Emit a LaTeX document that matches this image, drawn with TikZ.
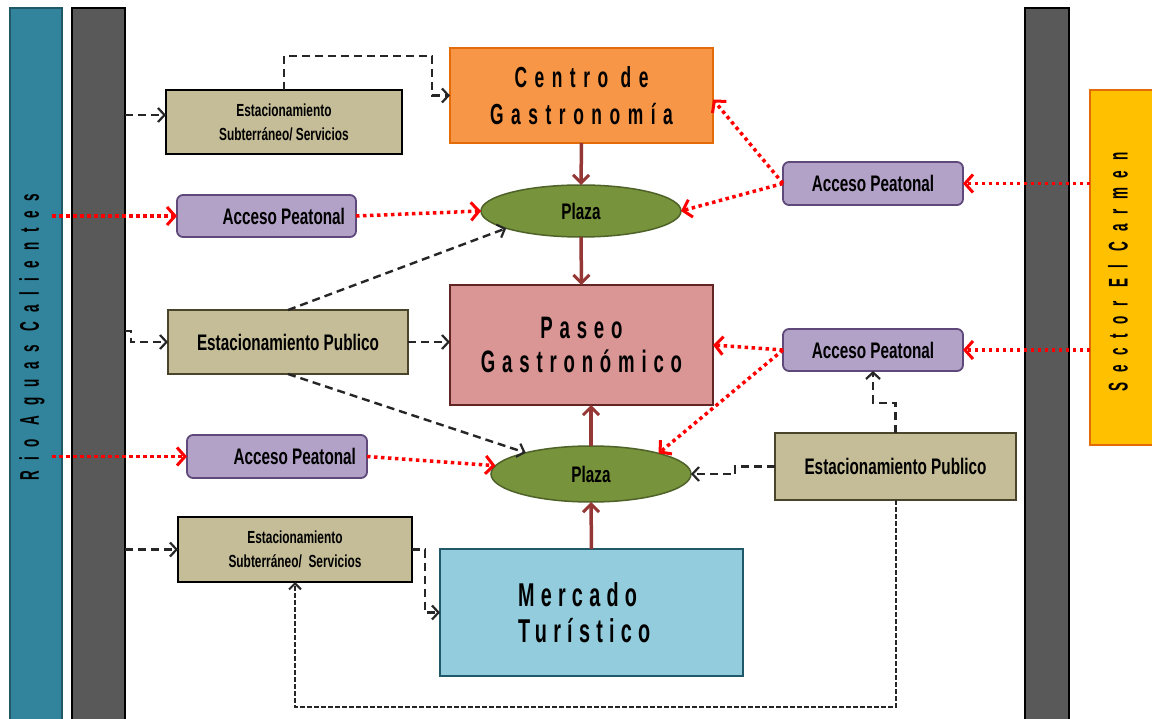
\documentclass[tikz,border=0pt]{standalone}
\usepackage{fontspec}
\setmainfont{Liberation Sans}
\newfontfamily\agN[FakeStretch=0.68]{Liberation Sans}
\newfontfamily\agT[FakeStretch=0.6]{Liberation Sans}
\newfontfamily\agV[FakeStretch=0.5,LetterSpace=36]{Liberation Sans}
\usetikzlibrary{shapes.geometric,arrows.meta}
\definecolor{cTeal}{HTML}{31849B}
\definecolor{cTealD}{HTML}{205867}
\definecolor{cGray}{HTML}{595959}
\definecolor{cYel}{HTML}{FFC000}
\definecolor{cOrD}{HTML}{E36C09}
\definecolor{cOr}{HTML}{F79646}
\definecolor{cGreen}{HTML}{77933C}
\definecolor{cGreenD}{HTML}{4F6228}
\definecolor{cPink}{HTML}{D99694}
\definecolor{cPinkD}{HTML}{632523}
\definecolor{cBlue}{HTML}{93CDDD}
\definecolor{cBlueD}{HTML}{215968}
\definecolor{cTan}{HTML}{C4BD97}
\definecolor{cTanD}{HTML}{4A452A}
\definecolor{cPur}{HTML}{B2A2C7}
\definecolor{cPurD}{HTML}{5F497A}
\definecolor{cArr}{HTML}{953735}
\newcommand\fLab{\agN\bfseries\fontsize{22.5}{24}\selectfont}
\newcommand\fSmall{\agN\bfseries\fontsize{17.5}{24}\selectfont}
\newcommand\fVert{\agV\bfseries\fontsize{27}{28}\selectfont}
\begin{document}
\begin{tikzpicture}[x=1pt,y=-1pt,
  every node/.style={inner sep=0pt, outer sep=0pt, align=center, text=black},
  bar/.style={draw=black, line width=1.5pt, fill=cGray},
  bigbox/.style={draw, line width=1.5pt},
  tanbox/.style={draw=cTanD, fill=cTan, line width=2pt},
  subbox/.style={draw=black, fill=cTan, line width=2.6pt, font=\fSmall},
  pubbox/.style={tanbox, font=\fLab},
  acc/.style={draw=cPurD, fill=cPur, line width=1.8pt, rounded corners=6pt, font=\fLab},
  plaza/.style={ellipse, draw=cGreenD, fill=cGreen, line width=1.5pt, font=\fLab},
  dsh/.style={draw=black!85, line width=2.4pt, dash pattern=on 8pt off 5pt, -{Straight Barb[length=6.5pt,width=14pt,line width=2.2pt]}},
  fdsh/.style={draw=black!85, line width=2pt, dash pattern=on 4.5pt off 2.5pt, -{Straight Barb[length=6pt,width=12pt,line width=2pt]}},
  red/.style={draw=red, line width=3.5pt, dash pattern=on 3.5pt off 3.5pt, -{Straight Barb[length=8pt,width=18pt,line width=3pt]}},
  solid/.style={draw=cArr, line width=3.5pt, -{Straight Barb[length=8pt,width=16pt,line width=3pt]}}
]
\useasboundingbox (0,0) rectangle (1152,719);
\fill[white] (0,0) rectangle (1152,719);

% side bars
\node[draw=cTealD, fill=cTeal, line width=1.5pt, minimum width=52pt, minimum height=724pt] (rio) at (36,370) {};
\node[bar, minimum width=53pt, minimum height=724pt] (gL) at (98.5,370) {};
\node[bar, minimum width=44pt, minimum height=724pt] (gR) at (1047,370) {};
\node[draw=cOrD, fill=cYel, line width=1.8pt, minimum width=66pt, minimum height=355pt] (sector) at (1123,267.5) {};
\node[rotate=90, font=\fVert] (riot) at (32,337) {Rio Aguas Calientes};
\node[rotate=90, font=\fVert] (sect) at (1118,272) {Sector El Carmen};

% main boxes
\node[bigbox, draw=cOrD, fill=cOr, minimum width=263pt, minimum height=95pt,
  font={\agT\bfseries\fontsize{29}{37}\selectfont\addfontfeature{LetterSpace=26}}] (centro) at (581.5,95.5) {Centro de\\Gastronomía};
\node[plaza, minimum width=200pt, minimum height=52pt] (p1) at (581,211) {Plaza};
\node[bigbox, draw=cPinkD, fill=cPink, minimum width=263pt, minimum height=120pt,
  font={\agT\bfseries\fontsize{31}{34}\selectfont\addfontfeature{LetterSpace=22}}] (paseo) at (581.5,345) {Paseo\\Gastronómico};
\node[plaza, minimum width=200pt, minimum height=56pt] (p2) at (591,474) {Plaza};
\node[bigbox, draw=cBlueD, fill=cBlue, minimum width=303pt, minimum height=127pt,
  text width=147pt, inner xsep=78pt, align=left,
  font={\agT\bfseries\fontsize{33}{36}\selectfont\addfontfeature{LetterSpace=19}}] (merc) at (591.5,612.5) {Mercado\\Turístico};

% left column
\node[subbox, minimum width=236pt, minimum height=64pt] (est1) at (284,122) {Estacionamiento\\Subterráneo/ Servicios};
\node[acc, minimum height=42pt, inner xsep=11pt] (acL1) at (266.5,216) {\makebox[157pt][r]{Acceso Peatonal}};
\node[pubbox, minimum width=240pt, minimum height=64pt] (epL) at (288,342) {Estacionamiento Publico};
\node[acc, minimum height=43pt, inner xsep=11pt] (acL2) at (277,456.5) {\makebox[158pt][r]{Acceso Peatonal}};
\node[subbox, minimum width=234pt, minimum height=65pt] (est2) at (295,549.5) {Estacionamiento\\Subterráneo/\ \ Servicios};

% right column
\node[acc, minimum width=180pt, minimum height=43pt] (acR1) at (873,183.5) {Acceso Peatonal};
\node[acc, minimum width=180pt, minimum height=42pt] (acR2) at (873,350) {Acceso Peatonal};
\node[pubbox, minimum width=241pt, minimum height=67pt] (epR) at (895.5,466.5) {Estacionamiento Publico};

% solid flow
\draw[solid] (centro.south) -- (p1.north);
\draw[solid] (p1.south) -- (paseo.north);
\draw[solid] (p2.north) -- (p2.north |- paseo.south);
\draw[solid] (merc.north) -- (p2.south);

% red pedestrian access
\coordinate (rs1) at ([xshift=-10pt]rio.east |- acL1.west);
\coordinate (rs2) at ([xshift=-10pt]rio.east |- acL2.west);
\draw[red] (rs1) -- (acL1.west);
\draw[red] (acL1.east) -- (p1.west);
\draw[red] (rs2) -- (acL2.west);
\draw[red] (acL2.east) -- (p2.175);
\draw[red] (sector.west |- acR1.east) -- (acR1.east);
\draw[red] (acR1.west) -- ([yshift=-4pt]centro.east);
\draw[red] (acR1.west) -- (p1.east);
\draw[red] (sector.west |- acR2.east) -- (acR2.east);
\draw[red] (acR2.west) -- (paseo.east);
\draw[red] (acR2.west) -- (p2.17);

% black dashed
\coordinate (e1in) at ([yshift=7pt]est1.west);
\draw[dsh] (gL.east |- e1in) -- (e1in);
\draw[dsh] (est1.north) -- ++(0,-34) -- ++(148,0) |- (centro.west);
\coordinate (pLs) at ([yshift=11pt]gL.east |- epL.west);
\draw[dsh] (pLs) -- ++(6,0) |- (epL.west);
\draw[dsh] (epL.east) -- (paseo.west |- epL.east);
\draw[dsh] (epL.north) -- (p1.193);
\draw[dsh] (epL.south) -- (p2.162);
\draw[dsh] (epR.west) -- ++(-40,0) |- (p2.east);
\draw[dsh] (epR.north) -- ++(0,-30) -| (acR2.south);
\draw[fdsh] (epR.south) -- ++(0,207) -| (est2.south);
\draw[dsh] (gL.east |- est2.west) -- (est2.west);
\draw[dsh] (est2.east) -- ++(13,0) |- (merc.west);
\end{tikzpicture}
\end{document}
